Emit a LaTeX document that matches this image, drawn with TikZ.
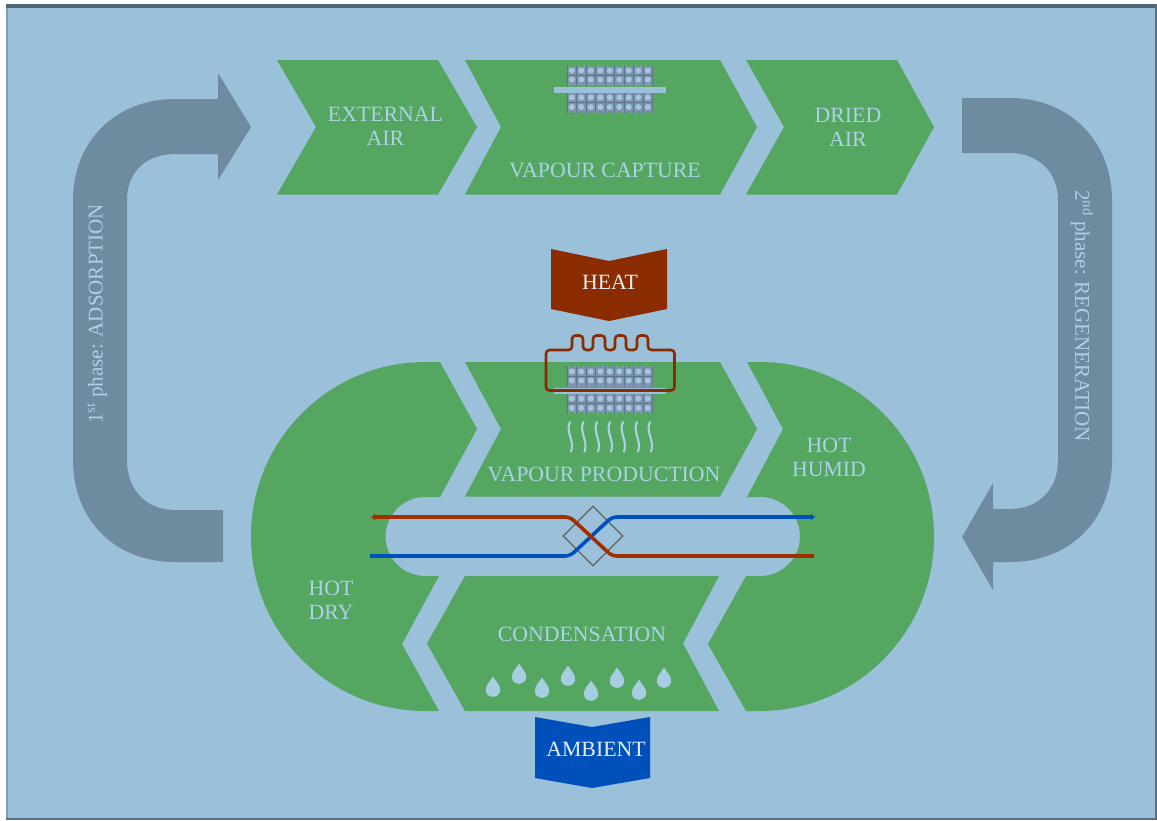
\documentclass[tikz,border=0pt]{standalone}
\usepackage{fontspec}
\setmainfont{Liberation Serif}
\usetikzlibrary{arrows.meta,calc}
\definecolor{bgblue}{HTML}{9AC0DA}
\definecolor{leaf}{HTML}{55A660}
\definecolor{slatearrow}{HTML}{6F8BA0}
\definecolor{paletxt}{HTML}{ABD2E6}
\definecolor{hotred}{HTML}{8A2C00}
\definecolor{coldblue}{HTML}{0050BC}
\definecolor{linered}{HTML}{A03000}
\definecolor{sorbgrey}{HTML}{7F94AE}
\definecolor{sorbdark}{HTML}{5F7390}
\definecolor{frameTop}{HTML}{4F6676}
\definecolor{frameSide}{HTML}{7F9BAE}
\tikzset{
  x=1pt,y=-1pt,
  greenpart/.style={fill=leaf,draw=none},
  phase/.style={fill=slatearrow,draw=none},
  lbl/.style={text=paletxt,inner sep=0pt,align=center,font=\fontsize{21.8}{24}\selectfont},
  lblwhite/.style={text=white!65!paletxt,inner sep=0pt,align=center,font=\fontsize{21.8}{24}\selectfont},
  phasetxt/.style={text=paletxt,inner sep=0pt,font=\fontsize{21}{24}\selectfont},
  flowred/.style={draw=linered,line width=3.6pt,rounded corners=5pt},
  flowblue/.style={draw=coldblue,line width=3.6pt,rounded corners=5pt},
  wavy line/.style={draw=paletxt,line width=2.1pt,line cap=round},
  sorbent/.pic={
    \fill[sorbgrey] (0,0) rectangle (86,21);
    \fill[sorbgrey] (0,27) rectangle (86,48);
    \foreach \c in {0,...,8}{
      \foreach \r in {5.5,14.5,32.5,42}{
        \fill[paletxt!80!sorbgrey] ({4.8+\c*9.5},\r) circle (3);
      }
      \draw[sorbdark,line width=.7pt] ({\c*9.5+.3},0) -- ({\c*9.5+.3},21) ({\c*9.5+.3},27) -- ({\c*9.5+.3},48);
      \fill[leaf] ({3+\c*9.5},0) rectangle ({6.5+\c*9.5},2);
      \fill[leaf] ({3+\c*9.5},46) rectangle ({6.5+\c*9.5},48);
    }
    \foreach \r in {10,37.5}{
      \draw[sorbdark,line width=.7pt] (0,\r) -- (86,\r);
    }
    \draw[sorbdark,line width=.7pt] (85.6,0) -- (85.6,21) (85.6,27) -- (85.6,48);
    \fill[bgblue] (-13,21.5) rectangle (99,27.5);
  },
  drop/.pic={
    \fill[paletxt!70!bgblue] (0,-10.5) .. controls (2.5,-6) and (7.2,-2.5) .. (7.2,3)
      .. controls (7.2,7) and (4,9.8) .. (0,9.8)
      .. controls (-4,9.8) and (-7.2,7) .. (-7.2,3)
      .. controls (-7.2,-2.5) and (-2.5,-6) .. cycle;
  }
}
\begin{document}
\begin{tikzpicture}
\useasboundingbox (0,0) rectangle (1157,820);
\fill[white] (0,0) rectangle (1157,820);
\fill[frameSide] (5.5,4) rectangle (1157,820);
\fill[frameTop] (5.5,4) rectangle (1157,7.5);
\fill[frameTop!80!frameSide] (1154.5,4) rectangle (1157,820);
\fill[frameTop!80!frameSide] (5.5,817.5) rectangle (1157,820);
\fill[bgblue] (8,7.5) rectangle (1154.5,817.5);

% phase arrows
\path[phase] (223,510) -- (175,510) .. controls (146,510) and (127,490) .. (127,460)
  -- (127,200) .. controls (127,172) and (146,154) .. (175,154) -- (218,154) -- (218,180)
  -- (251,127) -- (218,73) -- (218,99) -- (175,99)
  .. controls (115,99) and (73,142) .. (73,200) -- (73,460)
  .. controls (73,520) and (115,562) .. (175,562) -- (223,562) -- cycle;
\path[phase] (962,98) -- (1010,98) .. controls (1070,98) and (1112,142) .. (1112,200)
  -- (1112,460) .. controls (1112,520) and (1070,562) .. (1010,562) -- (993,562)
  -- (993,590) -- (962,537) -- (993,483) -- (993,509) -- (1010,509)
  .. controls (1038,509) and (1058,490) .. (1058,460) -- (1058,200)
  .. controls (1058,172) and (1038,153) .. (1010,153) -- (962,153) -- cycle;

% top chevrons
\path[greenpart] (277,60) -- (438,60) -- (477,127) -- (438,194.5) -- (277,194.5) -- (316,127) -- cycle;
\path[greenpart] (465,60) -- (720,60) -- (757,127) -- (720,194.5) -- (465,194.5) -- (501,127) -- cycle;
\path[greenpart] (746,60) -- (897,60) -- (934,127) -- (897,194.5) -- (746,194.5) -- (784,127) -- cycle;

% lower cycle
\path[greenpart] (440,362) -- (477,429) -- (440,497) -- (425,497)
  arc[start angle=-90,delta angle=-180,radius=39.5] -- (439,576) -- (402,644) -- (439,711)
  -- (425.5,711) arc[start angle=90,delta angle=180,radius=174.5] -- cycle;
\path[greenpart] (747,362) -- (783,429) -- (747,497) -- (760.5,497)
  arc[start angle=-90,delta angle=180,radius=39.5] -- (746,576) -- (708,644) -- (746,711)
  -- (759.5,711) arc[start angle=90,delta angle=-180,radius=174.5] -- cycle;
\path[greenpart] (465,362) -- (720,362) -- (757,429) -- (720,496.5) -- (465,496.5) -- (501,429) -- cycle;
\path[greenpart] (465,576) -- (719,576) -- (683,643.5) -- (719,711) -- (465,711) -- (427,643.5) -- cycle;

% heat and ambient
\path[fill=hotred] (551,249) -- (609,261) -- (667,249) -- (667,309) -- (609,321) -- (551,309) -- cycle;
\path[fill=coldblue] (535,717) -- (592,727) -- (650,717) -- (650,778) -- (592,788) -- (535,778) -- cycle;

% sorbent beds
\pic at (567,65) {sorbent};
\pic at (567,366) {sorbent};

% heater
\draw[hotred,line width=2.6pt,rounded corners=3.5pt]
  (572,350) -- (572,335.5) -- (583,335.5) -- (583,350) -- (593,350) -- (593,335.5) -- (605,335.5)
  -- (605,350) -- (615,350) -- (615,335.5) -- (626,335.5) -- (626,350) -- (637,350) -- (637,335.5)
  -- (648,335.5) -- (648,350) -- (674.5,350) -- (674.5,390.5) -- (546,390.5) -- (546,350) -- cycle;

% vapour waves
\foreach \wx in {570,583.5,597,610,623,637,650}{
  \draw[wavy line] (\wx,422) .. controls ({\wx-5},431) and ({\wx+5},441) .. (\wx+1,451.5);
}

% drops
\foreach \dx/\dy in {493/687,519/674,542/688,568/676,591/691,617/678,639/690,664/678}{
  \pic at (\dx,\dy) {drop};
}

% central cut-out lines
\coordinate (redstart) at (814,556);
\coordinate (redend) at (371,517);
\coordinate (bluestart) at (370,556);
\coordinate (blueend) at (815,517);
\coordinate (hxL1) at (570,517);
\coordinate (hxR1) at (612,556);
\coordinate (hxL2) at (570,556);
\coordinate (hxR2) at (612,517);
\node[draw=black!62,line width=1.3pt,minimum size=42pt,inner sep=0pt,rotate=45] (hx) at (593,536) {};
\draw[flowblue,-{Latex[length=4pt,width=7pt]}] (bluestart) -- (hxL2) -- (hxR2) -- (blueend);
\draw[flowred,-{Latex[length=4pt,width=7pt]}] (redstart) -- (hxR1) -- (hxL1) -- (redend);

% texts
\node[lbl] (ext) at (385.5,126) {EXTERNAL\\[0pt]AIR};
\node[lbl] (cap) at (605,170) {VAPOUR CAPTURE};
\node[lbl] (dried) at (848,127) {DRIED\\[0pt]AIR};
\node[lblwhite] (heat) at (610,282) {HEAT};
\node[lbl] (prod) at (604,474) {VAPOUR PRODUCTION};
\node[lbl] (humid) at (829,457) {HOT\\[0pt]HUMID};
\node[lbl] (dry) at (331,600) {HOT\\[0pt]DRY};
\node[lbl] (cond) at (582,634) {CONDENSATION};
\node[lblwhite] (amb) at (596,749) {AMBIENT};
\node[phasetxt,rotate=90] (ph1) at (97,314) {1\textsuperscript{st} phase: ADSORPTION};
\node[phasetxt,rotate=-90] (ph2) at (1082,316) {2\textsuperscript{nd} phase: REGENERATION};
\end{tikzpicture}
\end{document}
